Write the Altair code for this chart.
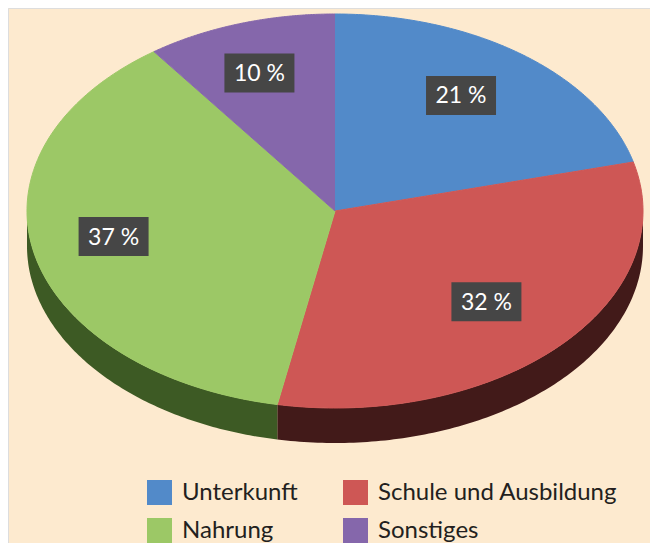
import altair as alt
import pandas as pd

categories = ["Unterkunft", "Schule und Ausbildung", "Nahrung", "Sonstiges"]
values = [21, 32, 37, 10]
legend_order = ["Unterkunft", "Nahrung", "Schule und Ausbildung", "Sonstiges"]

face_colors = {"Unterkunft": "#528AC9", "Schule und Ausbildung": "#CE5755",
               "Nahrung": "#9CC866", "Sonstiges": "#8567AB"}
side_colors = ["#2E4A70", "#421A19", "#3D5A24", "#4A3A63"]

RX, RY, DEPTH, N = 308, 197, 35, 120
F = 0.71

df = pd.DataFrame({"category": categories, "value": values})

xs = alt.Scale(domain=[-327, 315], nice=False, zero=False)
ys = alt.Scale(domain=[-332, 203], nice=False, zero=False)

face_scale = alt.Scale(domain=legend_order, range=[face_colors[c] for c in legend_order])

base = (
    alt.Chart(df)
    .transform_joinaggregate(total="sum(value)")
    .transform_window(cum="sum(value)", frame=[None, 0])
    .transform_calculate(a0="2*PI*(datum.cum - datum.value)/datum.total")
    .transform_calculate(a1="2*PI*datum.cum/datum.total")
)

faces = (
    base.transform_calculate(k=f"sequence(-1, {N + 1})")
    .transform_flatten(["k"])
    .transform_calculate(ang=f"datum.a0 + (datum.a1 - datum.a0) * max(datum.k, 0) / {N}")
    .transform_calculate(r="datum.k < 0 ? 0 : 1")
    .transform_calculate(px=f"datum.r * {RX} * sin(datum.ang)")
    .transform_calculate(py=f"datum.r * {RY} * cos(datum.ang)")
    .mark_line(filled=True, strokeWidth=1)
    .encode(
        x=alt.X("px:Q", scale=xs, axis=None),
        y=alt.Y("py:Q", scale=ys, axis=None),
        order=alt.Order("k:Q"),
        detail="category:N",
        fill=alt.Fill(
            "category:N",
            scale=face_scale,
            legend=alt.Legend(
                title=None,
                orient="none",
                legendX=139,
                legendY=472,
                columns=2,
                symbolType="square",
                symbolSize=625,
                symbolStrokeWidth=0,
                labelFont="Lato",
                labelFontSize=24,
                labelColor="#231F20",
                labelOffset=10,
                columnPadding=45,
                rowPadding=13,
                padding=0,
                labelLimit=400,
            ),
        ),
        stroke=alt.Stroke("category:N", scale=face_scale, legend=None),
    )
)

# side walls of the front half, drawn as closed polygons (top edge, then bottom edge back)
sides = (
    base.transform_calculate(s2="max(datum.a0, PI/2)")
    .transform_calculate(e2="min(datum.a1, 3*PI/2)")
    .transform_filter("datum.e2 > datum.s2")
    .transform_calculate(k=f"sequence(0, {2 * N + 2})")
    .transform_flatten(["k"])
    .transform_calculate(j=f"datum.k <= {N} ? datum.k : {2 * N + 1} - datum.k")
    .transform_calculate(ang=f"datum.s2 + (datum.e2 - datum.s2) * datum.j / {N}")
    .transform_calculate(px=f"{RX} * sin(datum.ang)")
    .transform_calculate(py=f"{RY} * cos(datum.ang) - (datum.k > {N} ? {DEPTH} : 0)")
    .mark_line(filled=True, strokeWidth=1)
    .encode(
        x=alt.X("px:Q", scale=xs, axis=None),
        y=alt.Y("py:Q", scale=ys, axis=None),
        order=alt.Order("k:Q"),
        detail="category:N",
        color=alt.Color(
            "category:N",
            scale=alt.Scale(domain=categories, range=side_colors),
            legend=None,
        ),
    )
)

labels = (
    base.transform_calculate(mid="(datum.a0 + datum.a1) / 2")
    .transform_calculate(lx=f"{F} * {RX} * sin(datum.mid)")
    .transform_calculate(ly=f"{F} * {RY} * cos(datum.mid)")
    .transform_calculate(txt="datum.value + ' %'")
)

boxes = labels.mark_rect(width=70, height=39, color="#464646", xOffset=-8, yOffset=-5).encode(
    x=alt.X("lx:Q", scale=xs, axis=None),
    y=alt.Y("ly:Q", scale=ys, axis=None),
)

texts = labels.mark_text(
    font="Lato", fontSize=23, color="white", dx=-8, dy=-4, align="center", baseline="middle"
).encode(
    x=alt.X("lx:Q", scale=xs, axis=None),
    y=alt.Y("ly:Q", scale=ys, axis=None),
    text="txt:N",
)

chart = (
    alt.layer(sides, faces, boxes, texts)
    .resolve_scale(color="independent")
    .properties(width=642, height=535, padding=0, autosize=alt.AutoSizeParams(type="none"))
    .configure_view(strokeWidth=0)
    .configure(background="#FDEACF")
)

chart.save("out.html", embed_options={"renderer": "svg", "actions": False})
